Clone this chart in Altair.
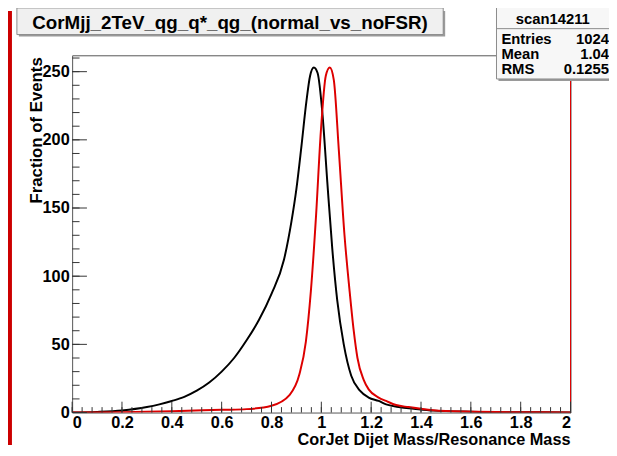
import altair as alt
import pandas as pd

# ---------------- data ----------------
normal_x = [0.0, 0.10, 0.20, 0.30, 0.35, 0.40, 0.45, 0.50, 0.55, 0.60, 0.65, 0.70, 0.75,
            0.80, 0.85, 0.88, 0.90, 0.92, 0.94, 0.955, 0.97, 0.985, 1.005, 1.024,
            1.044, 1.064, 1.09, 1.12, 1.155, 1.19, 1.23, 1.26, 1.39, 1.45, 1.6, 1.8, 2.0]
normal_y = [0.1, 0.5, 1.5, 4.0, 6.0, 8.5, 11.5, 16.0, 22.0, 30.0, 40.0, 53.0, 68.0,
            87.0, 112.0, 140.0, 164.0, 195.0, 228.0, 247.0, 253.0, 249.0, 218.0, 169.0,
            120.0, 82.0, 50.0, 27.0, 16.0, 11.0, 8.5, 6.0, 2.4, 1.4, 0.6, 0.2, 0.1]

nofsr_x = [0.0, 0.2, 0.4, 0.6, 0.70, 0.80, 0.873, 0.912, 0.938, 0.958, 0.979, 0.998, 1.018,
           1.034, 1.05, 1.07, 1.093, 1.113, 1.13, 1.145, 1.17, 1.19, 1.23, 1.26, 1.30,
           1.35, 1.45, 1.58, 1.8, 2.0]
nofsr_y = [0.0, 0.3, 1.0, 2.0, 2.5, 5.0, 13.0, 28.0, 52.0, 89.0, 145.0, 206.0, 247.0,
           253.0, 244.0, 193.0, 130.0, 90.0, 60.0, 40.0, 24.0, 17.0, 11.0, 8.5, 5.5,
           4.0, 1.7, 0.7, 0.2, 0.1]

x_major = [0.0, 0.2, 0.4, 0.6, 0.8, 1.0, 1.2, 1.4, 1.6, 1.8, 2.0]
y_major = [0, 50, 100, 150, 200, 250]
x_minor = [round(i * 0.04, 2) for i in range(51)]
y_minor = [i * 10 for i in range(27)]

title_text = "CorMjj_2TeV_qg_q*_qg_(normal_vs_noFSR)"
stats_title = "scan14211"
stats_names = ["Entries", "Mean", "RMS"]
stats_values = ["1024", "1.04", "0.1255"]

x_title = "CorJet Dijet Mass/Resonance Mass"
y_title = "Fraction of Events"

# ---------------- layout ----------------
W, H = 505, 362
FONT = "Liberation Sans"
RED = "#dd0000"

xs = alt.Scale(domain=[0, 2], nice=False, zero=False)
ys = alt.Scale(domain=[0, 262], nice=False)

normal_df = pd.DataFrame({"x": normal_x, "y": normal_y, "o": range(len(normal_x))})
nofsr_df = pd.DataFrame({"x": nofsr_x, "y": nofsr_y, "o": range(len(nofsr_x))})

one = alt.Data(values=[{"a": 1}])

red_strip = alt.Chart(one).mark_rect(color="#cc0000").encode(
    x=alt.value(-65), x2=alt.value(-61), y=alt.value(-45), y2=alt.value(H + 33))

xaxis = alt.Axis(values=x_major, format="~g", ticks=False, domain=False, grid=False,
                 title=None, labelFont=FONT, labelFontWeight="bold", labelFontSize=16.5,
                 labelColor="black", labelPadding=2, tickSize=0)
yaxis = alt.Axis(values=y_major, ticks=False, domain=False, grid=False, title=None,
                 labelFont=FONT, labelFontWeight="bold", labelFontSize=16.5,
                 labelColor="black", labelPadding=3, tickSize=0)

black_line = alt.Chart(normal_df).mark_line(
    color="black", strokeWidth=2, interpolate="monotone", clip=True).encode(
    x=alt.X("x:Q", scale=xs, axis=xaxis),
    y=alt.Y("y:Q", scale=ys, axis=yaxis),
    order="o:Q")

red_line = alt.Chart(nofsr_df).mark_line(
    color=RED, strokeWidth=2, interpolate="monotone", clip=True).encode(
    x=alt.X("x:Q", scale=xs), y=alt.Y("y:Q", scale=ys), order="o:Q")

right_edge = alt.Chart(pd.DataFrame({"x": [2.0]})).mark_rule(color=RED, strokeWidth=1).encode(
    x=alt.X("x:Q", scale=xs), y=alt.value(0), y2=alt.value(H))

xmaj = alt.Chart(pd.DataFrame({"x": x_major})).mark_rule(color="#333", strokeWidth=1).encode(
    x=alt.X("x:Q", scale=xs), y=alt.value(H), y2=alt.value(H - 11))
xmin = alt.Chart(pd.DataFrame({"x": x_minor})).mark_rule(color="#333", strokeWidth=1).encode(
    x=alt.X("x:Q", scale=xs), y=alt.value(H), y2=alt.value(H - 5.5))
ymaj = alt.Chart(pd.DataFrame({"y": y_major})).mark_rule(color="#333", strokeWidth=1).encode(
    y=alt.Y("y:Q", scale=ys), x=alt.value(0), x2=alt.value(15))
ymin = alt.Chart(pd.DataFrame({"y": y_minor})).mark_rule(color="#333", strokeWidth=1).encode(
    y=alt.Y("y:Q", scale=ys), x=alt.value(0), x2=alt.value(7.5))

# title box
tb_shadow = alt.Chart(one).mark_rect(color="#9a9a9a").encode(
    x=alt.value(-54), x2=alt.value(378), y=alt.value(-45), y2=alt.value(-19))
tb_box = alt.Chart(one).mark_rect(fill="#f0f0f0", stroke="#8a8a8a", strokeWidth=1).encode(
    x=alt.value(-56), x2=alt.value(376), y=alt.value(-48), y2=alt.value(-21))
tb_text = alt.Chart(one).mark_text(font=FONT, fontWeight="bold", fontSize=19,
                                   align="center", baseline="middle", color="black").encode(
    x=alt.value(160), y=alt.value(-33), text=alt.value(title_text))

# stats box
sb_shadow = alt.Chart(one).mark_rect(color="#9a9a9a").encode(
    x=alt.value(432), x2=alt.value(560), y=alt.value(-50), y2=alt.value(26))
sb_box = alt.Chart(one).mark_rect(fill="#f7f7f7", stroke="#8a8a8a", strokeWidth=1).encode(
    x=alt.value(430), x2=alt.value(558), y=alt.value(-50), y2=alt.value(24))
sb_sep = alt.Chart(one).mark_rule(color="#8a8a8a", strokeWidth=1).encode(
    x=alt.value(430), x2=alt.value(558), y=alt.value(-27))


def txt(s, x, y, align, size=15):
    return alt.Chart(one).mark_text(font=FONT, fontWeight="bold", fontSize=size,
                                    align=align, baseline="middle", color="black").encode(
        x=alt.value(x), y=alt.value(y), text=alt.value(s))


sb_title = txt(stats_title, 487, -37, "center")
row_y = [-16, -1, 14]
sb_rows = [txt(n, 435, ry, "left") for n, ry in zip(stats_names, row_y)]
sb_rows += [txt(v, 544, ry, "right") for v, ry in zip(stats_values, row_y)]

# axis titles
xt = alt.Chart(one).mark_text(font=FONT, fontWeight="bold", fontSize=16.5, align="right",
                              baseline="alphabetic", color="black").encode(
    x=alt.value(W), y=alt.value(H + 33), text=alt.value(x_title))
yt = alt.Chart(one).mark_text(font=FONT, fontWeight="bold", fontSize=17, align="right",
                              baseline="alphabetic", angle=270, color="black").encode(
    x=alt.value(-31), y=alt.value(2), text=alt.value(y_title))

chart = alt.layer(
    red_strip, black_line, red_line, right_edge, xmaj, xmin, ymaj, ymin,
    tb_shadow, tb_box, tb_text, sb_shadow, sb_box, sb_sep, sb_title, *sb_rows,
    xt, yt
).properties(
    width=W, height=H,
    padding={"left": 65, "top": 45, "right": 39, "bottom": 33},
    autosize=alt.AutoSizeParams(type="none"),
    background="white",
).configure_view(stroke="#555", strokeWidth=1)

chart.save("out.html", embed_options={"renderer": "svg", "actions": False})
